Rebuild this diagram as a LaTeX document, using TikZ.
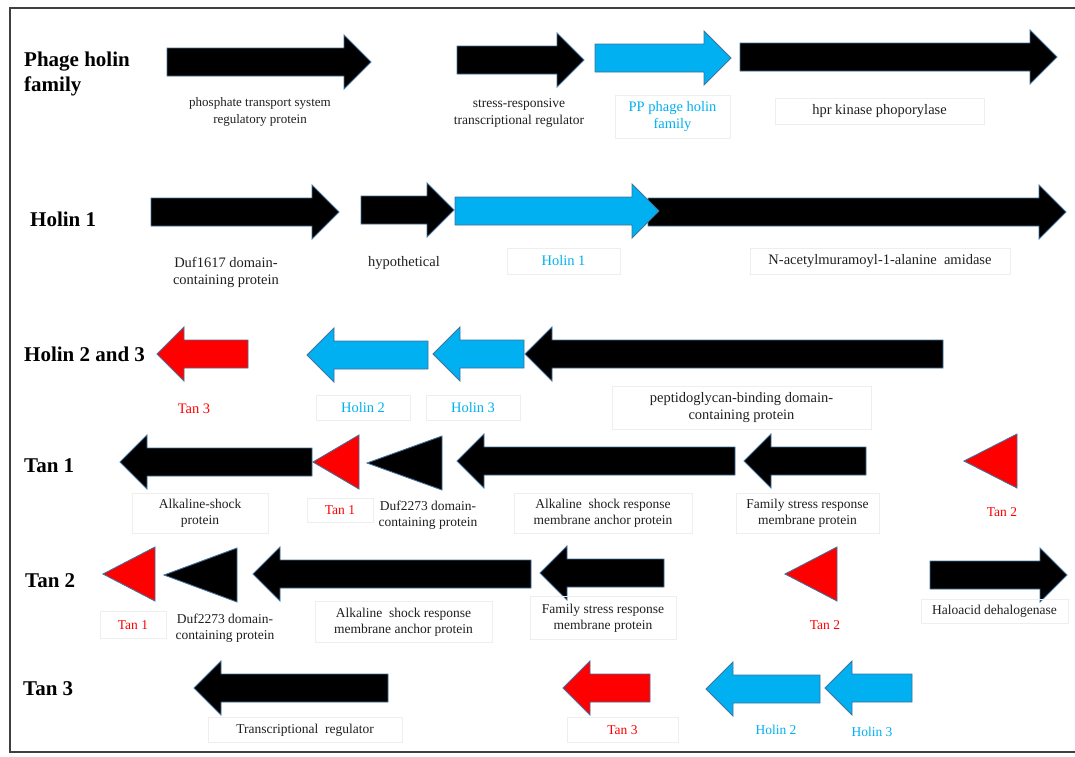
\documentclass[tikz,border=0pt]{standalone}
\usepackage{fontspec}
\setmainfont{Liberation Serif}
\definecolor{holinblue}{RGB}{0,176,240}
\definecolor{tanred}{RGB}{255,0,0}
\definecolor{geneedge}{RGB}{65,113,156}
\definecolor{boxgray}{RGB}{238,238,238}

% gene arrows: [style]{from x}{to x}{centre y}, picture units are pixels
\newcommand{\generight}[4][]{%
  \filldraw[gene,#1] (#2,#4-14) -- (#3-27,#4-14) -- (#3-27,#4-27) -- (#3,#4)
    -- (#3-27,#4+27) -- (#3-27,#4+14) -- (#2,#4+14) -- cycle;}
\newcommand{\geneleft}[4][]{%
  \filldraw[gene,#1] (#3,#4-14) -- (#2+27,#4-14) -- (#2+27,#4-27) -- (#2,#4)
    -- (#2+27,#4+27) -- (#2+27,#4+14) -- (#3,#4+14) -- cycle;}
\newcommand{\genetri}[4][]{%
  \filldraw[gene,#1] (#2,#4) -- (#3,#4-27) -- (#3,#4+27) -- cycle;}

\begin{document}
\begin{tikzpicture}[
    x=1pt, y=-1pt,
    gene/.style={fill=black, draw=geneedge, line width=0.9pt},
    holinfill/.style={fill=holinblue},
    tanfill/.style={fill=tanred},
    rowtitle/.style={anchor=west, align=left, inner sep=0pt, font=\fontsize{21}{25}\selectfont\bfseries},
    gname/.style={align=center, inner sep=0pt, text=black!88, font=\fontsize{14.5}{17}\selectfont},
    gsmall/.style={font=\fontsize{13.5}{16.5}\selectfont},
    lbox/.style={draw=boxgray, line width=0.6pt},
    holintext/.style={text=holinblue},
    tantext/.style={text=tanred}
]
\useasboundingbox (0,0) rectangle (1075,756);

% Frame
\draw[line width=1.5pt, black!75] (1076,8) -- (10,8) -- (10,752) -- (1076,752);

% Phage holin family
\node[rowtitle] (t-phage) at (24,74) {Phage holin\\family};
\generight{167}{371}{62}
\generight{457}{584}{60}
\generight[holinfill]{595}{731}{58}
\generight{740}{1057}{57}
\node[gname, font=\fontsize{13}{17}\selectfont] (phosphate) at (260,112) {phosphate transport system\\regulatory protein};
\node[gname, font=\fontsize{13.5}{17}\selectfont] (stress) at (519,113) {stress-responsive\\transcriptional regulator};
\node[gname, holintext, lbox, minimum width=115pt, minimum height=43pt] (ppholin) at (672.5,116.5) {PP phage holin\\family};
\node[gname, lbox, minimum width=209pt, minimum height=26pt] (hpr) at (879.5,111) {hpr kinase phoporylase};

% Holin 1
\node[rowtitle] (t-holin1) at (30,219) {Holin 1};
\generight{151}{339}{212}
\generight{361}{454}{210}
\generight{648}{1066}{212}
\generight[holinfill]{455}{659}{211}
\node[gname] (duf1617) at (226,272) {Duf1617 domain-\\containing protein};
\node[gname] (hypo) at (404,263) {hypothetical};
\node[gname, holintext, lbox, minimum width=113pt, minimum height=26pt] (holin1) at (563.5,261) {Holin 1};
\node[gname, lbox, minimum width=260pt, minimum height=26pt] (amidase) at (880,261) {N-acetylmuramoyl-1-alanine\ \ amidase};

% Holin 2 and 3
\node[rowtitle] (t-holin23) at (24,354) {Holin 2 and 3};
\geneleft[tanfill]{157}{248}{354}
\geneleft[holinfill]{307}{428}{355}
\geneleft[holinfill]{433}{524}{354}
\geneleft{525}{943}{354}
\node[gname, tantext] (tan3a) at (194,409) {Tan 3};
\node[gname, holintext, lbox, minimum width=94pt, minimum height=25pt] (holin2a) at (363,408) {Holin 2};
\node[gname, holintext, lbox, minimum width=94pt, minimum height=25pt] (holin3a) at (473,408) {Holin 3};
\node[gname, lbox, minimum width=259pt, minimum height=43pt] (peptido) at (741.5,408) {peptidoglycan-binding domain-\\containing protein};

% Tan 1
\node[rowtitle] (t-tan1) at (24,466) {Tan 1};
\geneleft{120}{312}{462}
\genetri[tanfill]{313}{359}{462}
\genetri{367}{442}{463}
\geneleft{457}{735}{461}
\geneleft{744}{866}{461}
\genetri[tanfill]{964}{1017}{461}
\node[gname, gsmall, lbox, minimum width=136pt, minimum height=40pt] (alkshock) at (200,513) {Alkaline-shock\\protein};
\node[gname, gsmall, tantext, lbox, minimum width=66pt, minimum height=24pt] (tan1a) at (340,510) {Tan 1};
\node[gname, gsmall] (duf2273a) at (428,515) {Duf2273 domain-\\containing protein};
\node[gname, gsmall, lbox, minimum width=178pt, minimum height=40pt] (anchora) at (603,513) {Alkaline\ \ shock response\\membrane anchor protein};
\node[gname, gsmall, lbox, minimum width=143pt, minimum height=40pt] (familya) at (807.5,513) {Family stress response\\membrane protein};
\node[gname, gsmall, tantext] (tan2a) at (1002,512) {Tan 2};

% Tan 2
\node[rowtitle] (t-tan2) at (25,581) {Tan 2};
\genetri[tanfill]{103}{155}{574}
\genetri{164}{237}{575}
\geneleft{253}{531}{574}
\geneleft{540}{664}{573}
\genetri[tanfill]{785}{837}{574}
\generight{930}{1067}{575}
\node[gname, gsmall, tantext, lbox, minimum width=66pt, minimum height=27pt] (tan1b) at (133,625) {Tan 1};
\node[gname, gsmall] (duf2273b) at (225,628) {Duf2273 domain-\\containing protein};
\node[gname, gsmall, lbox, minimum width=177pt, minimum height=41pt] (anchorb) at (403.5,622) {Alkaline\ \ shock response\\membrane anchor protein};
\node[gname, gsmall, lbox, minimum width=146pt, minimum height=43pt] (familyb) at (603,618) {Family stress response\\membrane protein};
\node[gname, gsmall, tantext] (tan2b) at (825,625) {Tan 2};
\node[gname, gsmall, lbox, minimum width=147pt, minimum height=24pt] (halo) at (994.5,611) {Haloacid dehalogenase};

% Tan 3
\node[rowtitle] (t-tan3) at (23,689) {Tan 3};
\geneleft{194}{388}{688}
\geneleft[tanfill]{563}{650}{688}
\geneleft[holinfill]{706}{820}{689}
\geneleft[holinfill]{825}{912}{688}
\node[gname, gsmall, lbox, minimum width=194pt, minimum height=25pt] (transreg) at (305,730) {Transcriptional\ \ regulator};
\node[gname, gsmall, tantext, lbox, minimum width=111pt, minimum height=25pt] (tan3b) at (622.5,730) {Tan 3};
\node[gname, gsmall, holintext] (holin2b) at (776,730) {Holin 2};
\node[gname, gsmall, holintext] (holin3b) at (872,732) {Holin 3};

\end{tikzpicture}
\end{document}
